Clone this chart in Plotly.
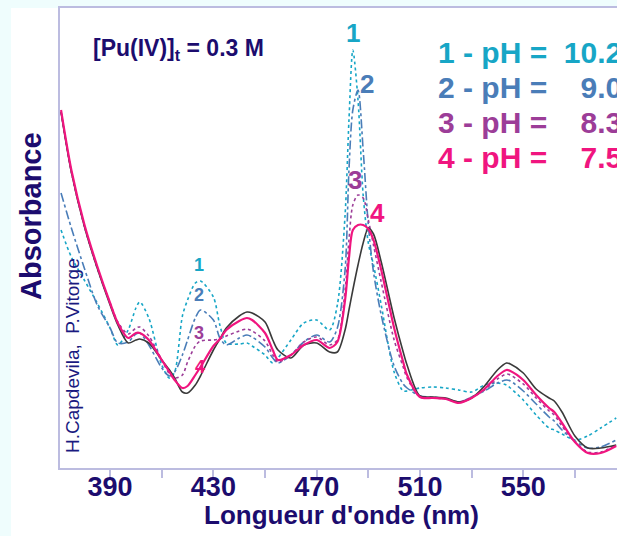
import plotly.graph_objects as go

# Wavelength grid (nm)
wavelength = [371, 375, 380, 385, 390, 393, 397, 400, 401.5, 405,
              410, 413, 415, 418, 420, 423, 425, 430, 432.5, 435,
              440, 443, 445, 450, 453, 455, 460, 465, 470, 475,
              478, 481, 482.5, 484, 486, 488, 490, 492, 495, 500,
              503.5, 505, 510, 515, 520, 525, 530, 535, 540, 543.5,
              545, 550, 555, 560, 562, 565, 570, 575, 580, 586]

# Absorbance (arbitrary units)
abs_ph102 = [238, 211, 188, 165, 140, 123, 138, 160, 166, 150,
             103, 90, 96, 152, 168, 185, 187, 171, 143, 125,
             124, 125, 122, 113, 105, 110, 128, 145, 148, 138,
             163, 253, 348, 418, 368, 273, 225, 203, 163, 96,
             77, 77, 80, 81, 80, 78, 76, 83, 85, 83,
             80, 68, 53, 40, 38, 34, 28, 32, 40, 50]
abs_ph90 = [275, 240, 200, 163, 140, 125, 126, 134, 135, 123,
            100, 92, 96, 113, 128, 150, 158, 148, 130, 123,
            130, 133, 131, 121, 110, 105, 113, 126, 133, 126,
            140, 198, 298, 358, 378, 318, 243, 196, 153, 102,
            84, 80, 72, 71, 69, 66, 71, 77, 85, 88,
            87, 77, 64, 51, 47, 38, 27, 20, 21, 28]
abs_ph83 = [356, 296, 242, 200, 165, 146, 134, 140, 141, 132,
            108, 94, 90, 93, 106, 122, 127, 128, 129, 132,
            137, 139, 137, 127, 113, 106, 113, 126, 131, 123,
            128, 178, 228, 263, 273, 270, 248, 223, 186, 128,
            101, 90, 71, 70, 69, 66, 71, 78, 89, 94,
            93, 84, 70, 57, 53, 42, 26, 16, 16, 23]
abs_ph75 = [358, 298, 244, 202, 165, 145, 130, 135, 135, 128,
            108, 96, 88, 80, 82, 93, 101, 122, 129, 138,
            147, 150, 148, 135, 118, 108, 113, 123, 128, 120,
            126, 168, 210, 238, 243, 243, 239, 228, 198, 140,
            106, 93, 71, 70, 69, 65, 70, 79, 92, 98,
            97, 88, 73, 60, 56, 45, 26, 15, 15, 22]
abs_ref = [356, 296, 242, 200, 163, 143, 125, 128, 129, 125,
           108, 98, 90, 76, 75, 83, 92, 118, 129, 140,
           152, 156, 155, 146, 128, 118, 110, 123, 125, 116,
           116, 138, 158, 178, 203, 225, 240, 234, 206, 150,
           116, 103, 72, 71, 70, 66, 70, 82, 98, 105,
           104, 95, 79, 70, 67, 56, 32, 20, 20, 23]

label_ticks = [390, 430, 470, 510, 550]
label_text = ["390", "430", "470", "510", "550"]
mark_ticks = [390, 410, 430, 450, 470, 490, 510, 530, 550, 570]

NB = "\u00a0"
legend_labels = ["1 - pH =" + NB * 2 + "10.2", "2 - pH =" + NB * 4 + "9.0",
                 "3 - pH =" + NB * 4 + "8.3", "4 - pH =" + NB * 4 + "7.5"]
curve_ids = ["1", "2", "3", "4"]

C_CYAN = "#17a6c6"
C_BLUE = "#4a7db8"
C_PURP = "#9c3d98"
C_PINK = "#f0157f"
C_BLACK = "#3a3a3a"
NAVY = "#1c0c6e"
AXIS = "#bcbce0"
FONT = "Liberation Sans, Arial, sans-serif"

fig = go.Figure()
series = [
    (abs_ph102, C_CYAN, "dot", 1.6),
    (abs_ph90, C_BLUE, "dashdot", 1.6),
    (abs_ph83, C_PURP, "dot", 1.6),
    (abs_ref, C_BLACK, "solid", 1.6),
    (abs_ph75, C_PINK, "solid", 2.2),
]
for vals, col, dash, w in series:
    fig.add_trace(go.Scatter(x=wavelength, y=vals, mode="lines",
                             line=dict(color=col, dash=dash, width=w, shape="spline", smoothing=0.8),
                             showlegend=False, hoverinfo="skip"))

W, H = 617, 536
L, R, T, B = 60, 0, 8, 68
pw, ph = W - L - R, H - T - B


def px(xp):
    return (xp - L) / pw


def py(yp):
    return (H - B - yp) / ph


ann = []
ann.append(dict(x=px(91), y=py(49), xanchor="left", yanchor="middle",
                text="<b>[Pu(IV)]<sub>t</sub> = 0.3 M</b>", font=dict(size=23, color=NAVY, family=FONT)))
leg_cols = [C_CYAN, C_BLUE, C_PURP, C_PINK]
leg_y = [52.5, 87.5, 122, 157]
for lab, col, yy in zip(legend_labels, leg_cols, leg_y):
    ann.append(dict(x=px(436), y=py(yy), xanchor="left", yanchor="middle",
                    text="<b>" + lab + "</b>", font=dict(size=30, color=col, family=FONT)))
peak_pos = [(353, 33), (367, 84), (355, 180), (377, 213)]
for cid, col, (xx, yy) in zip(curve_ids, leg_cols, peak_pos):
    ann.append(dict(x=px(xx), y=py(yy), xanchor="center", yanchor="middle",
                    text="<b>" + cid + "</b>", font=dict(size=26, color=col, family=FONT)))
small_pos = [(199, 265), (199, 295), (199, 333), (200, 367)]
for cid, col, (xx, yy) in zip(curve_ids, leg_cols, small_pos):
    ann.append(dict(x=px(xx), y=py(yy), xanchor="center", yanchor="middle",
                    text="<b>" + cid + "</b>", font=dict(size=18, color=col, family=FONT)))
ann.append(dict(x=px(31), y=py(216), xanchor="center", yanchor="middle", textangle=-90,
                text="<b>Absorbance</b>", font=dict(size=29, color=NAVY, family=FONT)))
ann.append(dict(x=px(342), y=py(515), xanchor="center", yanchor="middle",
                text="<b>Longueur d'onde (nm)</b>", font=dict(size=26, color=NAVY, family=FONT)))
ann.append(dict(x=px(72), y=py(356), xanchor="center", yanchor="middle", textangle=-90,
                text="H.Capdevila," + NB + " P.Vitorge", font=dict(size=19, color="#1a1a80", family=FONT)))
for a in ann:
    a.update(xref="paper", yref="paper", showarrow=False)

fig.update_layout(
    width=W, height=H,
    margin=dict(l=L, r=R, t=T, b=B, pad=0),
    paper_bgcolor="#effdfd",
    plot_bgcolor="white",
    annotations=ann,
    shapes=[dict(type="rect", xref="paper", yref="paper", layer="below",
                 x0=px(11), x1=1.02, y0=py(H + 5), y1=1.0,
                 fillcolor="white", line=dict(width=0))],
    xaxis=dict(range=[370.6, 586.3], tickmode="array", tickvals=label_ticks, ticktext=label_text,
               ticks="", ticklabelstandoff=-6,
               minor=dict(tickmode="array", tickvals=mark_ticks, ticks="outside", ticklen=8,
                          tickwidth=1.5, tickcolor=AXIS, showgrid=False),
               showline=True, linecolor=AXIS, linewidth=2, mirror=True,
               showgrid=False, zeroline=False,
               tickfont=dict(size=27, color=NAVY, family=FONT, weight="bold")),
    yaxis=dict(range=[0, 460], showticklabels=False, ticks="",
               showline=True, linecolor=AXIS, linewidth=2,
               showgrid=False, zeroline=False),
)

fig.write_html("out.html", config={"displayModeBar": False},
               post_script="document.body.style.margin='0px';document.body.style.overflow='hidden';")
